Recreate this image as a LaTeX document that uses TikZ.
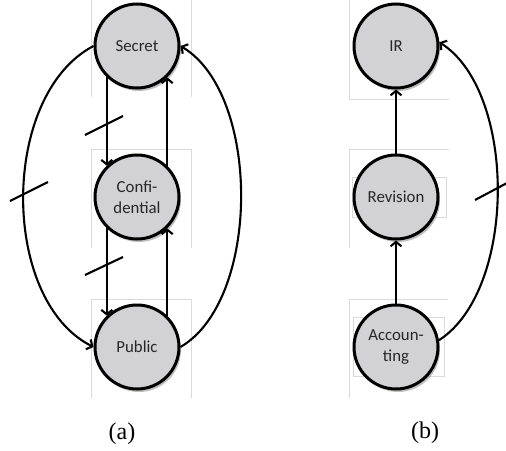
\documentclass[tikz,border=0pt]{standalone}
\usepackage{fontspec}
\setmainfont{Carlito}
\newfontfamily\capfont{Liberation Serif}
\usetikzlibrary{arrows.meta,shadows}
\definecolor{nodefill}{HTML}{D2D2D4}
\definecolor{faint}{HTML}{DADADA}
\begin{document}
\begin{tikzpicture}[x=1pt,y=-1pt,
  lvl/.style={circle, draw=black, line width=3pt, fill=nodefill, minimum size=84pt, inner sep=0pt,
    align=center, text=black!85, font=\fontsize{16.8}{21}\selectfont,
    drop shadow={opacity=0.5, shadow xshift=2pt, shadow yshift=-3pt}},
  conn/.style={line width=2.1pt, -{Straight Barb[length=4.5pt,width=11pt,line width=2.1pt]}},
  tick/.style={line width=2.1pt},
  ghost/.style={draw=faint, line width=0.8pt},
  caption/.style={font=\capfont\fontsize{24}{24}\selectfont, inner sep=0pt}]
\useasboundingbox (0,0) rectangle (506,450);
% faint background frames
\draw[ghost] (91,97) -- (91,-2) (191,-2) -- (191,97);
\draw[ghost] (91,248) -- (91,149) -- (191,149) -- (191,248);
\draw[ghost] (91,398) -- (91,299) -- (191,299) -- (191,398);
\draw[ghost] (349,0) -- (349,99) -- (449,99);
\draw[ghost] (349,248) -- (349,149) -- (449,149);
\draw[ghost] (352,177) rectangle (446,217);
\draw[ghost] (349,398) -- (349,299) -- (448,299);
\draw[ghost] (353,317) rectangle (444,376);
% nodes
\node[lvl] (S) at (137,46) {Secret};
\node[lvl] (C) at (137,197) {Confi-\\dential};
\node[lvl] (P) at (137,347) {Public};
\node[lvl] (IR) at (396,46) {IR};
\node[lvl] (R) at (396,197) {Revision};
\node[lvl] (A) at (396,347) {Accoun-\\ting};
% connectors (a)
\draw[conn] (S.-134) -- (C.134);
\draw[conn] (C.-134) -- (P.134);
\draw[conn] (C.46) -- (S.-46);
\draw[conn] (P.46) -- (C.-46);
\draw[conn] (S.180) .. controls (0,95) and (0,300) .. (P.180);
\draw[conn] (P.0) .. controls (261,300) and (261,94) .. (S.0);
% connectors (b)
\draw[conn] (A.north) -- (R.south);
\draw[conn] (R.north) -- (IR.south);
\draw[conn] (A.9) .. controls (517,290) and (517,92) .. (IR.5);
% ticks
\draw[tick] (85,135) -- (123,116);
\draw[tick] (85,275) -- (123,257);
\draw[tick] (10,201) -- (48,182);
\draw[tick] (475,200) -- (507,183);
% captions
\node[caption] (capa) at (122,434) {(a)};
\node[caption] (capb) at (425,433) {(b)};
\end{tikzpicture}
\end{document}
